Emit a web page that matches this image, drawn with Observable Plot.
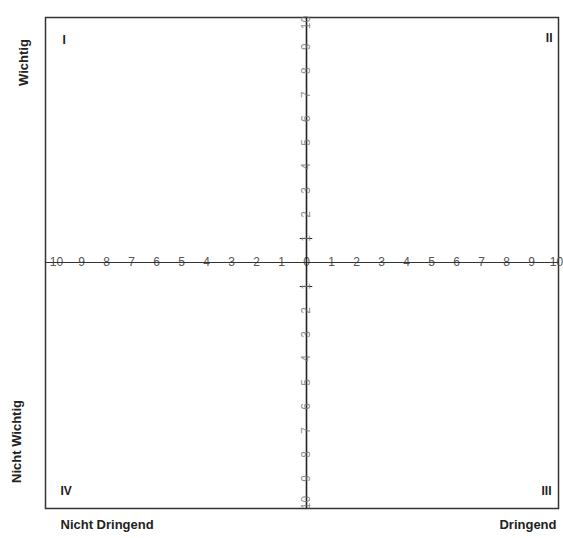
<!DOCTYPE html>
<html>
<head>
<meta charset="utf-8">
<script src="https://cdn.jsdelivr.net/npm/d3@7"></script>
<script src="https://cdn.jsdelivr.net/npm/@observablehq/plot@0.6"></script>
<style>
  html, body { margin: 0; padding: 0; background: #fff; }
  #chart svg { display: block; font-family: "Liberation Sans", Arial, sans-serif; }
</style>
</head>
<body>
<div id="chart"></div>
<script>
// Axis tick positions and their printed labels
const xTickValues = [-10, -9, -8, -7, -6, -5, -4, -3, -2, -1, 0, 1, 2, 3, 4, 5, 6, 7, 8, 9, 10];
const xTickLabels = ["10", "9", "8", "7", "6", "5", "4", "3", "2", "1", "0", "1", "2", "3", "4", "5", "6", "7", "8", "9", "10"];
const yTickValues = [10, 9, 8, 7, 6, 5, 4, 3, 2, 1, -1, -2, -3, -4, -5, -6, -7, -8, -9, -10];
const yTickLabels = ["10", "9", "8", "7", "6", "5", "4", "3", "2", "1", "1", "2", "3", "4", "5", "6", "7", "8", "9", "10"];
const yMinorTicks = [1, -1];
// Quadrant labels
const quadrantNames = ["I", "II", "III", "IV"];
// Axis titles
const axisTitles = ["Wichtig", "Nicht Wichtig", "Nicht Dringend", "Dringend"];

const xTicks = xTickValues.map((v, i) => ({v, label: xTickLabels[i]}));
const yTicks = yTickValues.map((v, i) => ({v, label: yTickLabels[i]}));

const plot = Plot.plot({
  width: 563,
  height: 538,
  marginLeft: 45,
  marginRight: 5,
  marginTop: 17,
  marginBottom: 30,
  x: {domain: [-10.44, 10.08], axis: null},
  y: {domain: [-10.25, 10.21], axis: null},
  style: {fontFamily: "Liberation Sans, Arial, sans-serif", background: "#fff"},
  marks: [
    Plot.frame({stroke: "#333", strokeWidth: 1.5}),
    // horizontal axis labels (line drawn through them)
    Plot.text(xTicks, {x: "v", y: 0, text: "label", fontSize: 12, fill: "#555"}),
    // small ticks on the vertical axis
    Plot.ruleY(yMinorTicks, {x1: -0.25, x2: 0.25, stroke: "#222", strokeWidth: 1}),
    // main axes
    Plot.ruleY([0], {stroke: "#333", strokeWidth: 1.2}),
    Plot.ruleX([0], {stroke: "#222", strokeWidth: 1.6}),
    // vertical axis labels, rotated, drawn over the axis line
    Plot.text(yTicks, {x: 0, y: "v", text: "label", fontSize: 12, fill: "#777", fillOpacity: 0.85, rotate: -90}),
    // quadrant numerals
    Plot.text([quadrantNames[0]], {text: d => d, frameAnchor: "top-left", dx: 17, dy: 18, fontSize: 12, fontWeight: "bold", fill: "#222"}),
    Plot.text([quadrantNames[1]], {text: d => d, frameAnchor: "top-right", dx: -6, dy: 16, fontSize: 12, fontWeight: "bold", fill: "#222"}),
    Plot.text([quadrantNames[2]], {text: d => d, frameAnchor: "bottom-right", dx: -7, dy: -14, fontSize: 12, fontWeight: "bold", fill: "#222"}),
    Plot.text([quadrantNames[3]], {text: d => d, frameAnchor: "bottom-left", dx: 15, dy: -14, fontSize: 12, fontWeight: "bold", fill: "#222"}),
    // axis titles outside the frame
    Plot.text([axisTitles[0]], {text: d => d, frameAnchor: "top-left", textAnchor: "middle", dx: -27, dy: 45, rotate: -90, fontSize: 13, fontWeight: "bold", fill: "#222"}),
    Plot.text([axisTitles[1]], {text: d => d, frameAnchor: "bottom-left", textAnchor: "middle", dx: -25, dy: -67, rotate: -90, fontSize: 13, fontWeight: "bold", fill: "#222"}),
    Plot.text([axisTitles[2]], {text: d => d, frameAnchor: "bottom-left", textAnchor: "start", dx: 15, dy: 20, fontSize: 13, fontWeight: "bold", fill: "#222"}),
    Plot.text([axisTitles[3]], {text: d => d, frameAnchor: "bottom-right", textAnchor: "end", dx: -2, dy: 20, fontSize: 13, fontWeight: "bold", fill: "#222"})
  ]
});
document.getElementById("chart").appendChild(plot);
</script>
</body>
</html>
